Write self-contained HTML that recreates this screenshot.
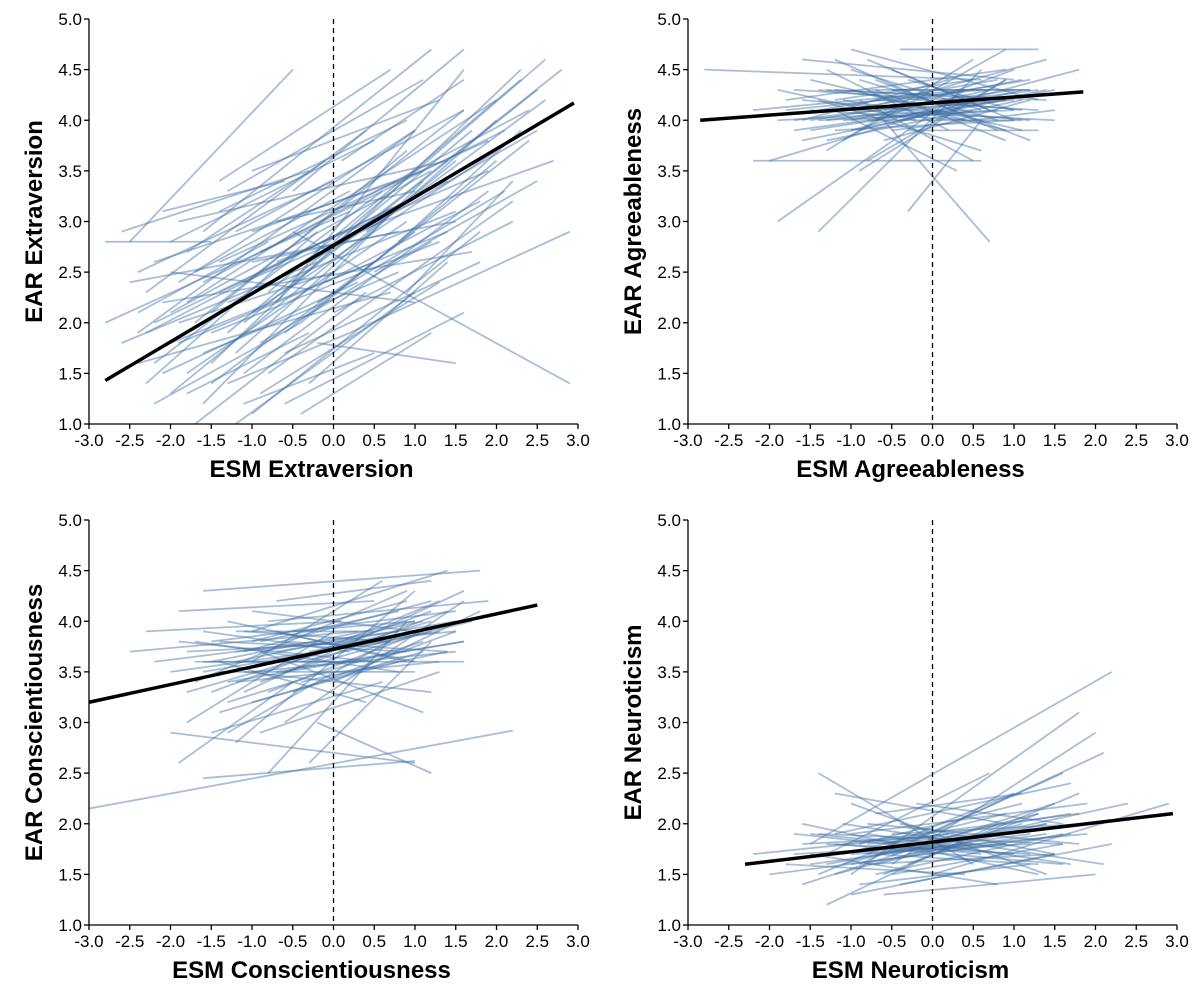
<!DOCTYPE html>
<html><head><meta charset="utf-8">
<style>
html,body{margin:0;padding:0;background:#fff;}
svg{display:block;font-family:"Liberation Sans",Arial,sans-serif;}
</style></head>
<body>
<svg id="chart" width="1200" height="1000" viewBox="0 0 1200 1000" xmlns="http://www.w3.org/2000/svg"></svg>
<script>
const xTicks = [-3.0,-2.5,-2.0,-1.5,-1.0,-0.5,0.0,0.5,1.0,1.5,2.0,2.5,3.0];
const yTicks = [1.0,1.5,2.0,2.5,3.0,3.5,4.0,4.5,5.0];
const panelNames = ["extraversion","agreeableness","conscientiousness","neuroticism"];
const xTitles = ["ESM Extraversion","ESM Agreeableness","ESM Conscientiousness","ESM Neuroticism"];
const yTitles = ["EAR Extraversion","EAR Agreeableness","EAR Conscientiousness","EAR Neuroticism"];
const fixedExtra = [-2.8,1.43,2.95,4.17];
const fixedAgree = [-2.85,4.0,1.85,4.28];
const fixedConsc = [-3.0,3.2,2.5,4.16];
const fixedNeuro = [-2.3,1.6,2.95,2.1];
const linesExtra = [
[-2.4,1.9,1.0,3.9],[-2.0,1.3,1.5,3.6],[-1.8,2.2,2.0,4.2],[-1.5,1.6,2.3,4.5],[-2.2,2.6,0.8,3.4],
[-1.0,1.1,1.8,2.9],[-2.5,2.4,1.5,3.0],[-1.6,2.9,1.2,4.7],[-0.5,2.4,2.8,4.5],[-2.0,1.8,0.5,2.6],
[-1.2,1.0,1.0,2.3],[-2.8,2.0,0.2,3.1],[-1.4,2.6,1.9,3.8],[-0.8,1.5,2.2,3.2],[-2.3,1.4,-0.2,2.9],
[-1.9,3.0,1.4,3.6],[-1.1,2.0,2.5,4.3],[-2.6,2.9,-0.3,3.5],[-0.6,1.2,1.6,2.1],[0.0,2.8,2.6,4.6],
[-1.7,1.0,0.4,2.3],[-1.3,3.3,1.1,4.4],[-2.1,2.2,1.7,2.7],[-0.9,2.7,2.1,3.9],[0.2,1.9,2.9,2.9],
[-2.4,1.6,0.7,2.3],[-1.5,2.1,0.9,3.7],[-0.3,1.4,1.4,2.6],[0.5,2.5,2.5,3.4],[-1.8,2.7,-0.1,3.6],
[-1.0,3.5,1.3,4.2],[-2.0,2.5,1.0,2.2],[-0.2,1.8,1.5,1.6],[-0.5,2.9,2.9,1.4],[-1.2,1.7,2.0,4.0],
[-2.3,2.3,0.4,3.9],[0.8,2.8,2.3,3.9],[-1.6,1.2,1.1,3.4],[-0.7,2.2,1.6,4.5],[-1.9,1.8,1.4,2.9],
[-2.5,2.8,-0.5,4.5],[-2.8,2.8,-1.5,2.8],[-1.4,3.1,0.9,4.0],[-2.2,1.2,-0.4,2.0],[-0.4,2.0,2.0,3.6],
[-1.1,2.4,0.6,3.0],[-1.9,2.0,0.0,2.5],[0.3,3.2,2.4,4.1],[-0.9,1.8,1.2,2.8],[-1.6,2.4,0.3,3.2],
[-2.1,3.1,-0.6,3.4],[-0.1,2.4,1.8,3.2],[0.9,2.3,2.2,3.4],[-1.3,1.4,0.2,1.9],[-2.4,2.1,-0.8,2.8],
[-0.7,3.0,1.0,3.3],[-1.5,1.9,1.3,2.8],[0.1,3.6,1.6,4.4],[-1.0,2.6,0.8,2.9],[-0.4,1.1,1.2,1.9],
[-2.2,1.6,0.6,3.3],[-1.7,2.0,1.6,4.1],[-1.3,1.9,1.7,3.9],[-0.8,2.3,2.3,4.4],[-2.0,2.1,1.2,3.5],
[-1.5,1.4,1.0,2.9],[-1.1,1.5,1.9,3.3],[-0.6,1.9,2.4,3.8],[-2.3,1.9,0.1,2.9],[-1.8,1.5,0.9,3.0],
[-1.4,2.3,1.4,3.4],[-1.0,2.1,2.0,3.7],[-0.3,2.6,2.5,3.9],[-2.6,1.8,-0.2,2.6],[-1.9,2.4,1.0,3.9],
[-1.2,2.9,1.6,4.1],[-0.7,2.6,1.9,3.5],[-2.1,1.5,0.3,2.4],[-1.6,1.7,0.8,2.5],[-0.9,1.3,1.3,2.4],
[-0.2,2.2,2.1,3.3],[0.4,2.9,2.6,4.2],[-1.4,3.4,0.7,4.5],[-2.0,2.8,0.5,3.8],[-0.5,3.3,1.6,4.7],
[-1.7,2.5,0.2,3.3],[-1.0,2.9,1.1,3.5],[-2.4,2.5,0.0,3.4],[-1.3,2.2,1.5,3.1],[-0.6,1.7,1.8,2.6],
[0.0,2.1,2.2,3.0],[-1.8,1.3,-0.3,1.9],[-1.1,1.2,0.5,1.7],[0.6,3.0,2.7,3.6],[-2.2,2.0,0.9,3.2]
];
const linesAgree = [
[-1.5,4.0,1.0,4.3],[-1.2,4.6,0.8,3.9],[-0.8,3.6,0.9,4.4],[-1.4,4.3,1.1,4.1],[-2.8,4.5,0.6,4.4],
[-1.0,4.7,1.3,4.2],[-1.9,3.0,0.4,4.3],[-1.4,2.9,0.6,4.5],[-0.6,4.0,0.7,2.8],[-1.6,3.8,1.5,4.3],
[-0.9,4.1,1.4,4.6],[-2.0,3.6,0.5,4.2],[-1.2,3.9,1.0,4.0],[-0.7,4.4,1.2,3.8],[-1.8,4.2,0.9,4.5],
[-1.1,4.0,0.8,4.1],[-1.3,3.7,0.5,4.6],[-0.5,4.5,1.0,4.0],[-1.7,4.0,1.3,4.3],[-0.9,3.5,0.9,4.4],
[-0.3,3.1,0.6,4.0],[-1.5,4.4,1.1,3.9],[-1.0,3.9,1.8,4.5],[-2.2,4.1,0.4,4.3],[-1.4,4.2,0.6,3.7],
[-0.8,4.6,0.7,4.1],[-1.2,4.1,0.3,3.5],[-0.6,3.8,1.2,4.2],[-1.6,4.6,1.0,4.4],[-1.0,4.3,0.9,3.9],
[-2.2,3.6,0.6,3.6],[-0.4,4.7,1.3,4.7],[-1.3,4.5,0.2,3.9],[-0.2,4.2,1.1,4.4],[-1.7,3.9,0.1,4.1],
[-0.9,4.2,0.5,3.6],[-1.1,3.8,0.9,4.7],[-0.5,3.9,1.5,4.1],[-1.9,4.3,-0.2,4.0],[-0.7,4.0,1.0,4.5],
[-1.3,4.0,0.7,4.2],[-0.8,4.3,1.2,4.3],[-1.5,4.1,0.4,4.0],[-1.0,4.5,0.6,4.1],[-0.3,3.9,1.3,3.9],
[-1.6,4.2,1.2,4.0],[-1.2,4.3,0.9,4.2],[-0.9,3.9,1.1,4.3],[-1.4,4.1,0.8,4.4],[-0.7,4.2,1.3,4.1],
[-1.8,4.1,0.6,4.3],[-1.1,4.2,0.4,4.0],[-0.6,4.1,1.0,4.2],[-1.3,4.3,1.4,4.2],[-1.0,4.0,0.7,4.3],
[-1.5,3.9,0.9,4.2],[-0.8,4.0,1.1,4.0],[-1.2,4.2,0.5,4.4],[-0.5,4.3,1.2,4.3],[-1.7,4.3,0.3,4.2],
[-0.9,4.4,0.8,4.0],[-1.4,4.0,1.0,4.1],[-0.4,4.0,1.4,4.3],[-1.1,4.1,1.2,4.4],[-1.6,4.0,0.2,4.4],
[-0.7,4.3,0.9,3.8],[-1.3,3.8,1.1,4.2],[-1.0,4.1,1.5,4.0],[-0.3,4.4,1.0,4.1],[-1.9,4.0,0.5,4.1]
];
const linesConsc = [
[-3.0,2.15,2.2,2.92],[-1.6,2.45,1.0,2.62],[-2.0,2.9,1.0,2.6],[-1.5,3.8,1.5,4.1],[-1.8,3.3,1.2,4.0],
[-1.2,2.8,1.0,4.3],[-0.8,2.5,0.9,4.0],[-1.6,3.6,1.6,3.6],[-1.0,3.9,1.4,4.5],[-2.2,3.6,0.8,3.9],
[-1.4,3.1,1.1,3.7],[-0.6,3.0,1.6,4.2],[-1.9,4.1,0.5,4.2],[-1.1,3.5,1.2,3.3],[-0.9,2.9,1.3,3.5],
[-1.7,3.4,0.9,4.3],[-0.5,3.3,1.5,3.9],[-1.3,4.0,1.0,3.6],[-2.5,3.7,0.3,3.9],[-1.0,3.2,0.8,3.6],
[-0.4,3.6,1.7,4.0],[-1.5,2.9,0.6,3.4],[-0.7,4.2,1.2,4.4],[-1.2,3.7,1.5,3.9],[-1.8,3.0,0.0,3.9],
[-0.3,2.6,1.2,3.8],[-1.6,4.3,1.8,4.5],[-0.9,3.7,1.1,3.1],[-2.0,3.5,0.7,3.8],[-1.1,3.3,1.6,4.3],
[-0.6,3.8,1.4,3.7],[-1.4,3.6,0.4,3.2],[-0.8,4.0,1.9,4.2],[-1.9,2.6,-0.5,3.4],[0.0,3.4,1.8,4.1],
[-1.3,2.9,0.9,3.9],[-1.0,3.6,0.6,4.4],[-1.7,3.8,0.8,3.5],[-0.5,3.9,1.0,4.0],[-1.2,3.4,1.3,3.6],
[-0.2,3.0,1.2,2.5],[-2.3,3.9,0.1,4.0],[-1.5,3.3,1.2,4.1],[-0.7,3.5,1.6,3.8],[-1.0,4.1,1.0,3.9],
[-1.6,3.5,1.3,3.9],[-1.2,3.6,1.1,4.0],[-0.9,3.4,1.4,4.1],[-1.4,3.8,0.9,3.7],[-0.7,3.7,1.5,4.0],
[-1.8,3.7,0.6,3.8],[-1.1,3.9,0.7,3.8],[-0.6,3.5,1.2,3.9],[-1.3,3.4,1.6,3.8],[-1.0,3.8,0.9,4.2],
[-1.5,3.6,1.0,4.0],[-0.8,3.3,1.1,3.9],[-1.2,3.9,0.5,3.9],[-0.5,3.6,1.3,4.2],[-1.7,3.6,0.3,3.6],
[-0.9,3.8,0.8,4.1],[-1.4,3.5,1.0,3.5],[-0.4,3.4,1.4,3.7],[-1.1,3.7,1.2,4.2],[-1.6,3.9,0.2,3.7],
[-0.7,3.9,0.9,3.6],[-1.3,3.2,1.1,3.8],[-1.0,3.5,1.5,3.7],[-0.3,3.7,1.0,3.9],[-1.9,3.8,0.5,3.6]
];
const linesNeuro = [
[-1.5,1.8,2.2,3.5],[-1.0,1.5,1.8,3.1],[-0.5,1.6,2.0,2.9],[-1.4,2.5,0.5,1.6],[-1.6,1.4,1.5,2.2],
[-1.0,2.2,1.4,1.5],[-0.8,1.7,1.9,1.9],[-1.2,1.9,1.7,2.4],[-1.3,1.2,0.8,2.0],[-0.6,1.5,1.3,2.1],
[-2.0,1.5,0.9,1.8],[-1.1,2.0,2.1,1.6],[-0.9,1.6,1.6,2.5],[-1.7,1.9,0.6,1.7],[-0.4,1.4,2.2,1.8],
[-1.5,1.6,1.2,1.9],[-0.7,2.1,1.1,2.3],[-1.0,1.3,1.5,1.7],[-2.2,1.7,0.2,1.9],[-0.3,1.8,2.1,2.7],
[-1.4,1.5,1.0,2.3],[-0.8,1.9,1.7,1.6],[-1.2,2.3,0.9,2.0],[-0.5,1.7,2.4,2.2],[-1.6,2.0,1.3,1.5],
[-0.9,1.4,1.2,1.6],[-1.1,1.8,1.8,2.1],[-0.2,2.2,1.6,2.0],[-1.3,1.7,0.7,2.5],[-0.6,1.3,2.0,1.5],
[-1.8,1.6,0.4,1.5],[-0.7,1.6,1.4,2.0],[-1.0,1.9,1.9,2.2],[0.0,1.5,2.9,2.2],[-1.4,1.9,1.6,1.8],
[-0.4,2.0,1.5,1.7],[-1.2,1.5,1.1,2.0],[-0.8,1.8,0.9,1.9],[-1.5,1.7,0.8,1.4],[-0.3,1.6,1.8,2.3],
[-1.3,1.6,1.4,2.0],[-1.0,1.7,1.2,1.8],[-0.7,1.5,1.6,1.9],[-1.5,1.9,1.0,1.7],[-0.5,1.9,1.9,2.0],
[-1.1,1.6,1.3,2.1],[-0.8,1.6,1.5,1.7],[-1.4,1.7,0.9,1.8],[-0.6,1.8,1.7,2.1],[-1.2,1.8,1.6,1.6],
[-0.9,1.8,1.1,2.2],[-1.6,1.8,0.7,1.9],[-0.3,1.7,1.4,1.9],[-1.0,1.6,1.7,1.9],[-0.7,1.7,1.3,1.6],
[-1.3,1.8,1.2,1.7],[-0.5,1.5,1.6,1.8],[-1.1,1.7,0.9,2.1],[-0.8,2.0,1.8,1.8],[-1.7,1.7,0.5,1.8]
];
const panels = [
 {ox:89, oy:19, lines:linesExtra, fixed:fixedExtra},
 {ox:688,oy:19, lines:linesAgree, fixed:fixedAgree},
 {ox:89, oy:520,lines:linesConsc, fixed:fixedConsc},
 {ox:688,oy:520,lines:linesNeuro, fixed:fixedNeuro}
];
const W=489, H=405, NS="http://www.w3.org/2000/svg";
const svg=document.getElementById('chart');
function mk(tag,attrs,parent){const e=document.createElementNS(NS,tag);for(const k in attrs)e.setAttribute(k,attrs[k]);parent.appendChild(e);return e;}
panels.forEach((p,i)=>{
  const g=mk('g',{},svg);
  
  
  const sx=v=>p.ox+(v+3)/6*W;
  const sy=v=>p.oy+(5-v)/4*H;
  const lg=mk('g',{stroke:'#3f6fa5','stroke-opacity':0.45,'stroke-width':1.8},g);
  
  
  p.lines.forEach(l=>{
    const ln=mk('line',{x1:sx(l[0]),y1:sy(l[1]),x2:sx(l[2]),y2:sy(l[3])},lg);
    
    
  });
  const d=mk('line',{x1:sx(0),y1:sy(5),x2:sx(0),y2:sy(1),stroke:'#000','stroke-width':1.3,'stroke-dasharray':'5,4'},g);
  
  
  const f=p.fixed;
  const fl=mk('line',{x1:sx(f[0]),y1:sy(f[1]),x2:sx(f[2]),y2:sy(f[3]),stroke:'#000','stroke-width':3.5},g);
  
  
  const ax=mk('g',{stroke:'#000','stroke-width':1.3},g);
  
  
  mk('line',{x1:p.ox,y1:p.oy,x2:p.ox,y2:p.oy+H},ax);
  mk('line',{x1:p.ox,y1:p.oy+H,x2:p.ox+W,y2:p.oy+H},ax);
  xTicks.forEach(t=>{
    mk('line',{x1:sx(t),y1:p.oy+H,x2:sx(t),y2:p.oy+H+5},ax);
    const tx=mk('text',{x:sx(t),y:p.oy+H+22,'text-anchor':'middle','font-size':17,fill:'#000'},g);
    tx.textContent=t.toFixed(1);
    
    
  });
  yTicks.forEach(t=>{
    mk('line',{x1:p.ox-5,y1:sy(t),x2:p.ox,y2:sy(t)},ax);
    const tx=mk('text',{x:p.ox-7,y:sy(t)+6,'text-anchor':'end','font-size':17,fill:'#000'},g);
    tx.textContent=t.toFixed(1);
    
    
  });
  const xt=mk('text',{x:p.ox+W/2-22,y:p.oy+H+53,'text-anchor':'middle','font-size':24,'font-weight':'bold',fill:'#000'},g);
  xt.textContent=xTitles[i];
  
  
  const yx=p.ox-47, yy=p.oy+H/2;
  const yt=mk('text',{x:yx,y:yy,'text-anchor':'middle','font-size':24,'font-weight':'bold',fill:'#000',transform:`rotate(-90 ${yx} ${yy})`},g);
  yt.textContent=yTitles[i];
  
  
});
</script>
</body></html>
